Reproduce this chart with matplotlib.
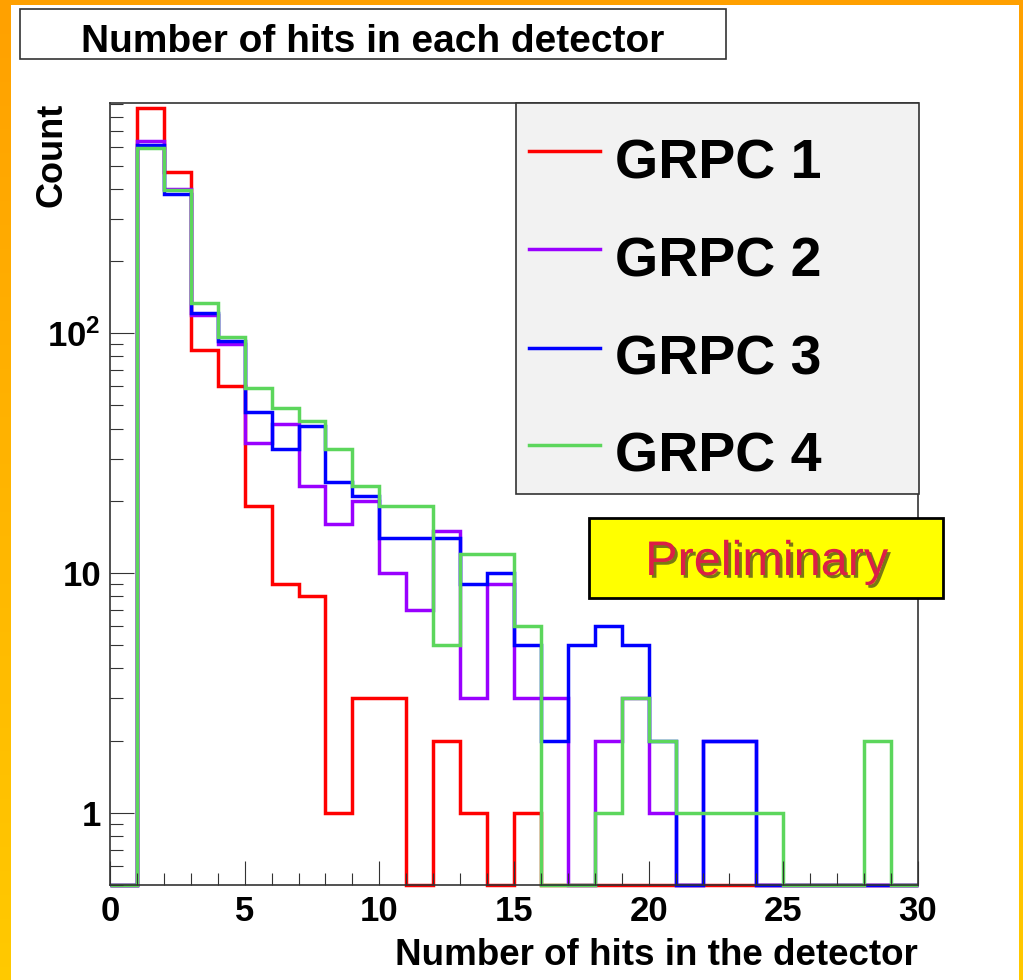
import matplotlib
matplotlib.use('Agg')
import matplotlib.pyplot as plt
import matplotlib.patheffects as pe
from matplotlib.patches import Rectangle
from matplotlib.ticker import FixedLocator, LogLocator, MultipleLocator, NullFormatter
import numpy as np

# histogram contents, one bin per unit from 0 to 30
edges = np.arange(0, 31)
grpc1 = [0, 866, 470, 85, 60, 19, 9, 8, 1, 3, 3, 0, 2, 1, 0, 1, 0, 0, 0, 0, 0, 0, 0, 0, 0, 0, 0, 0, 0, 0]
grpc2 = [0, 633, 401, 119, 90, 35, 42, 23, 16, 20, 10, 7, 15, 3, 9, 3, 3, 0, 2, 3, 1, 0, 2, 2, 0, 0, 0, 0, 0, 0]
grpc3 = [0, 611, 380, 121, 93, 47, 33, 41, 24, 21, 14, 14, 14, 9, 10, 5, 2, 5, 6, 5, 2, 0, 2, 2, 0, 0, 0, 0, 0, 0]
grpc4 = [0, 594, 394, 134, 96, 59, 49, 43, 33, 23, 19, 19, 5, 12, 12, 6, 0, 0, 1, 3, 2, 1, 1, 1, 1, 0, 0, 0, 2, 0]
series = [grpc1, grpc2, grpc3, grpc4]
labels = ['GRPC 1', 'GRPC 2', 'GRPC 3', 'GRPC 4']
colors = ['#ff0000', '#9900ff', '#0000ff', '#5cd65c']

ytick_vals = [1, 10, 100]
ytick_labels = ['1', '10', r'$\mathrm{10^{2}}$']
ymin, ymax = 0.5, 915

plt.rcParams['font.family'] = ['Liberation Sans', 'DejaVu Sans']
plt.rcParams['mathtext.fontset'] = 'custom'
plt.rcParams['mathtext.rm'] = 'Liberation Sans:bold'
plt.rcParams['mathtext.it'] = 'Liberation Sans:bold'
plt.rcParams['mathtext.bf'] = 'Liberation Sans:bold'

W, H = 1023, 980
fig = plt.figure(figsize=(W / 100, H / 100), dpi=100)
fig.patch.set_facecolor('white')

ax = fig.add_axes([110 / W, 1 - 885 / H, 808 / W, 782.3 / H])
for vals, col in zip(series, colors):
    shown = np.where(np.array(vals) > 0, vals, ymin)
    ax.stairs(shown, edges, baseline=None, color=col, lw=2.5, clip_on=False)

ax.set_yscale('log')
ax.set_xlim(0, 30)
ax.set_ylim(ymin, ymax)
ax.xaxis.set_major_locator(MultipleLocator(5))
ax.xaxis.set_minor_locator(MultipleLocator(1))
ax.yaxis.set_major_locator(FixedLocator(ytick_vals))
ax.yaxis.set_minor_locator(LogLocator(subs=np.arange(2, 10)))
ax.yaxis.set_minor_formatter(NullFormatter())
ax.set_yticklabels(ytick_labels)
ax.tick_params(which='both', direction='in', top=False, right=False, color='#333333', width=0.8,
               labelsize=25)
ax.tick_params(which='major', length=17)
ax.tick_params(which='minor', length=9)
ax.tick_params(axis='y', pad=6.5)
ax.tick_params(axis='x', pad=7)
for lab in ax.get_xticklabels() + ax.get_yticklabels():
    lab.set_fontweight('bold')
for sp in ax.spines.values():
    sp.set_color('#333333')
    sp.set_linewidth(1.2)

ax.set_xlabel('Number of hits in the detector', fontsize=26.5, fontweight='bold', loc='right')
ax.xaxis.label.set_va('baseline')
ax.xaxis.set_label_coords(1.0, (885 - 965) / 782.3)
ax.set_ylabel('Count', fontsize=26, fontweight='bold', loc='top')
ax.yaxis.set_label_coords((70 - 110) / 808, 1.0)

# overlay in pixel coordinates for frame decoration, title, legend and stamp
ov = fig.add_axes([0, 0, 1, 1], zorder=5)
ov.set_axis_off()
ov.patch.set_visible(False)

grad = np.linspace([1.0, 0.63, 0.0], [1.0, 0.79, 0.0], 200)[:, None, :]
ov.imshow(grad, extent=(0, 11, H, 0), aspect='auto', interpolation='bilinear')
ov.imshow(grad, extent=(1019, W, H, 0), aspect='auto', interpolation='bilinear')
ov.add_patch(Rectangle((0, 0), W, 5, facecolor='#ffa000', edgecolor='none'))
ov.set_xlim(0, W)
ov.set_ylim(H, 0)

ov.add_patch(Rectangle((19.6, 9), 706.4, 50, facecolor='white', edgecolor='#333333', lw=1.2))
ov.text(373, 51.7, 'Number of hits in each detector', fontsize=28, fontweight='bold',
        ha='center', va='baseline')

ov.add_patch(Rectangle((515.7, 102.7), 403.3, 391.3, facecolor='#f2f2f2', edgecolor='#333333', lw=1.2))
line_y = [151, 249, 347.7, 445]
base_y = [178.3, 276.7, 374.3, 471.7]
for lab, col, ly, by in zip(labels, colors, line_y, base_y):
    ov.plot([529, 600], [ly, ly], color=col, lw=2.5)
    ov.text(615, by, lab, fontsize=40, fontweight='bold', ha='left', va='baseline')

ov.add_patch(Rectangle((589, 518.3), 353.7, 80, facecolor='#ffff00', edgecolor='black', lw=2))
ov.text(766.7, 575, 'Preliminary', fontsize=35, color='#dc1e46', ha='center', va='baseline',
        path_effects=[pe.withSimplePatchShadow(offset=(2, -2), shadow_rgbFace='#202020', alpha=0.6)])

fig.savefig('out.png', dpi=100)
